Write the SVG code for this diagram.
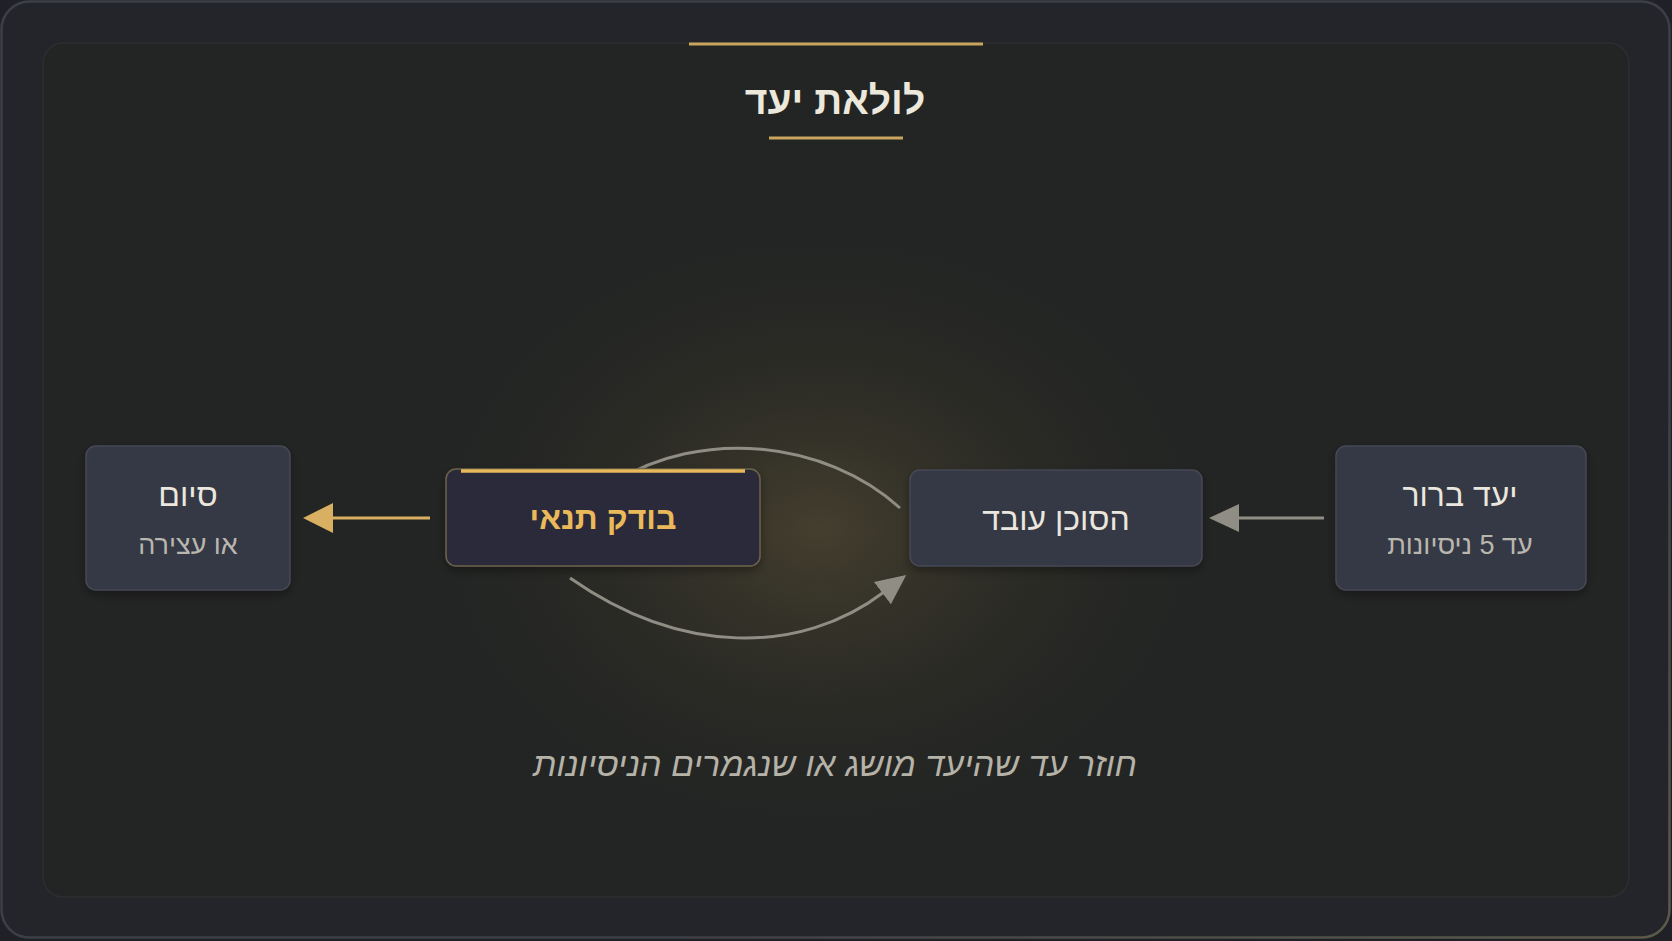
<svg xmlns="http://www.w3.org/2000/svg" width="1672" height="941" viewBox="0 0 1672 941">
  <defs>
    <radialGradient id="glow" cx="820" cy="530" r="420" gradientUnits="userSpaceOnUse" gradientTransform="translate(820 530) scale(1 0.78) translate(-820 -530)">
      <stop offset="0" stop-color="#4a4330" stop-opacity="0.85"/>
      <stop offset="0.45" stop-color="#3a3628" stop-opacity="0.45"/>
      <stop offset="1" stop-color="#232524" stop-opacity="0"/>
    </radialGradient>
    <linearGradient id="frameStroke" x1="0" y1="0" x2="1" y2="1">
      <stop offset="0" stop-color="#3d3f46"/>
      <stop offset="0.7" stop-color="#3d3f46"/>
      <stop offset="1" stop-color="#5c5b4a"/>
    </linearGradient>
    <filter id="shadow" x="-20%" y="-20%" width="140%" height="150%">
      <feDropShadow dx="0" dy="4" stdDeviation="5" flood-color="#000" flood-opacity="0.35"/>
    </filter>
    <marker id="arrGray" viewBox="0 0 30 30" refX="2" refY="15" markerWidth="30" markerHeight="30" markerUnits="userSpaceOnUse" orient="auto">
      <path d="M0,1 L30,15 L0,29 Z" fill="#8f8d84"/>
    </marker>
    <marker id="arrGold" viewBox="0 0 30 30" refX="2" refY="15" markerWidth="30" markerHeight="30" markerUnits="userSpaceOnUse" orient="auto">
      <path d="M0,0 L30,15 L0,30 Z" fill="#d9b062"/>
    </marker>
    <style>
      .node { fill: #353744; stroke: #464854; stroke-width: 1.5; }
      .check { fill: #292c3a; stroke: #6b624b; stroke-width: 1.5; }
      .t-main { font-family: "Liberation Sans", "DejaVu Sans", sans-serif; font-size: 32px; fill: #ebe7de; text-anchor: middle; }
      .t-sub { font-family: "Liberation Sans", "DejaVu Sans", sans-serif; font-size: 27px; fill: #b9b6ad; text-anchor: middle; }
      .t-gold { font-family: "Liberation Sans", "DejaVu Sans", sans-serif; font-size: 32px; font-weight: bold; fill: #eab95a; text-anchor: middle; }
      .title { font-family: "Liberation Sans", "DejaVu Sans", sans-serif; font-size: 39px; font-weight: bold; fill: #ece8dc; text-anchor: middle; }
      .caption { font-family: "Liberation Sans", "DejaVu Sans", sans-serif; font-size: 34px; font-style: italic; fill: #b5b2a8; text-anchor: middle; }
      .conn { fill: none; stroke: #8f8d84; stroke-width: 3; }
      .conn-gold { fill: none; stroke: #d9b062; stroke-width: 3; }
    </style>
  </defs>

  <rect x="0" y="0" width="1672" height="941" fill="#1f2127"/>
  <rect x="1.5" y="1.5" width="1668" height="936" rx="28" fill="#23252b" stroke="url(#frameStroke)" stroke-width="2.5"/>
  <rect x="43" y="43" width="1586" height="854" rx="20" fill="#232524" stroke="#2c2e2f" stroke-width="1.5"/>
  <rect x="43" y="43" width="1586" height="854" rx="20" fill="url(#glow)"/>

  <g id="title">
    <line x1="689" y1="44" x2="983" y2="44" stroke="#c9a55f" stroke-width="3"/>
    <text x="835" y="114" class="title" direction="rtl">לולאת יעד</text>
    <line x1="769" y1="138" x2="903" y2="138" stroke="#c9a55f" stroke-width="3"/>
  </g>

  <g id="connectors">
    <line x1="1324" y1="518" x2="1237" y2="518" class="conn" marker-end="url(#arrGray)"/>
    <line x1="430" y1="518" x2="331" y2="518" class="conn-gold" marker-end="url(#arrGold)"/>
    <path d="M900,508 C825,440 700,428 615,482" class="conn"/>
    <path d="M570,578 C680,655 800,656 884,592" class="conn" marker-end="url(#arrGray)"/>
  </g>

  <g id="node-end">
    <rect x="86" y="446" width="204" height="144" rx="10" class="node" filter="url(#shadow)"/>
    <text x="188" y="506" class="t-main" direction="rtl">סיום</text>
    <text x="188" y="554" class="t-sub" direction="rtl">או עצירה</text>
  </g>

  <g id="node-check">
    <rect x="446" y="469" width="314" height="97" rx="10" class="check" filter="url(#shadow)"/>
    <line x1="461" y1="471" x2="745" y2="471" stroke="#e8b85a" stroke-width="3.5"/>
    <text x="603" y="529" class="t-gold" direction="rtl">בודק תנאי</text>
  </g>

  <g id="node-agent">
    <rect x="910" y="470" width="292" height="96" rx="10" class="node" filter="url(#shadow)"/>
    <text x="1056" y="530" class="t-main" direction="rtl">הסוכן עובד</text>
  </g>

  <g id="node-goal">
    <rect x="1336" y="446" width="250" height="144" rx="10" class="node" filter="url(#shadow)"/>
    <text x="1460" y="506" class="t-main" direction="rtl">יעד ברור</text>
    <text x="1460" y="554" class="t-sub" direction="rtl">עד 5 ניסיונות</text>
  </g>

  <text x="835" y="776" class="caption" direction="rtl">חוזר עד שהיעד מושג או שנגמרים הניסיונות</text>
</svg>
